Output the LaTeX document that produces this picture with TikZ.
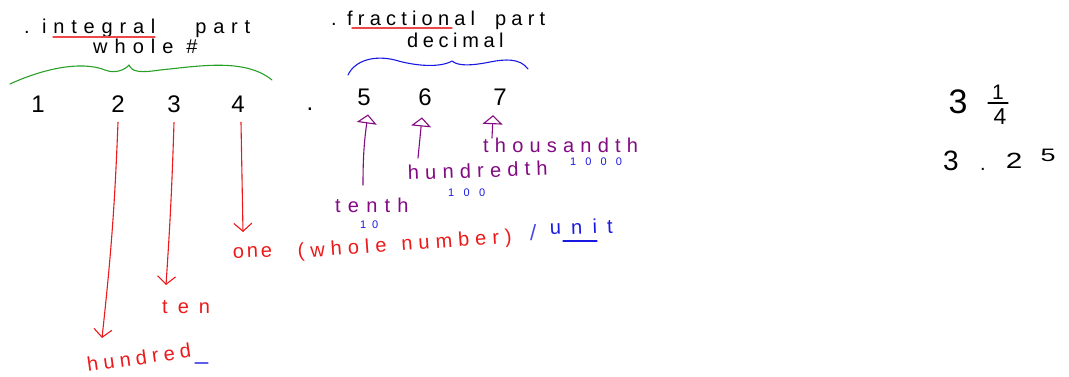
\documentclass[tikz,border=0pt]{standalone}
\usepackage{fontspec}
\usepackage{graphicx}
\setmainfont{Liberation Sans}
\usetikzlibrary{arrows.meta}
\definecolor{inkred}{RGB}{235,25,25}
\definecolor{inkpurple}{RGB}{130,10,130}
\definecolor{inkblue}{RGB}{25,25,225}
\definecolor{inkgreen}{RGB}{40,160,40}
\tikzset{
  hw/.style={inner sep=0pt, anchor=base west, font=\fontsize{20}{20}\selectfont\addfontfeatures{LetterSpace=#1}},
  hw/.default=30,
  small/.style={inner sep=0pt, anchor=base west, text=inkblue, font=\fontsize{11}{11}\selectfont\addfontfeatures{LetterSpace=#1}},
  small/.default=85,
  dig/.style={inner sep=0pt, anchor=base, font=\fontsize{24}{24}\selectfont},
  ink/.style={line width=1.1pt, line cap=round, line join=round},
  downarr/.style={ink, draw=inkred, -{Straight Barb[length=8pt,width=18pt]}},
  uparr/.style={ink, draw=inkpurple, -{Triangle[open,length=9pt,width=20pt]}},
}
\begin{document}
\begin{tikzpicture}[x=1pt,y=-1pt]
\useasboundingbox (0,0) rectangle (1069,376);

% ---- headings ----
\node[hw] (dotint) at (24,33) {.};
\node[hw=34] (integral) at (42,33) {integral\hspace{40pt}part};
\draw[ink, draw=inkred!80] (53,37) -- (155,37);
\node[hw=35] (whole) at (93,53) {whole\hspace{13pt}\#};
\draw[ink, draw=inkgreen] (10,84) .. controls (40,70) and (80,60) .. (105,70)
   .. controls (115,74) and (125,70) .. (129,65)
   .. controls (132,72) and (140,73) .. (160,70)
   .. controls (200,66) and (245,58) .. (272,80);

\node[hw] (dotfrac) at (331,25) {.};
\node[hw=26] (fractional) at (347,25) {fractional\hspace{20pt}part};
\draw[ink, draw=inkred!80] (352,28) -- (452,28);
\node[hw=23] (decimal) at (407,47) {decimal};
\draw[ink, draw=inkblue] (348,75) .. controls (355,60) and (375,55) .. (395,60)
   .. controls (415,66) and (440,68) .. (452,61)
   .. controls (458,66) and (470,66) .. (490,62)
   .. controls (505,59) and (520,58) .. (528,69);

% ---- digits ----
\node[dig] (d1) at (38,112) {1};
\node[dig] (d2) at (118,112) {2};
\node[dig] (d3) at (174,112) {3};
\node[dig] (d4) at (238,112) {4};
\node[dig] (dp) at (310,110) {.};
\node[dig] (d5) at (364,105) {5};
\node[dig] (d6) at (425,105) {6};
\node[dig] (d7) at (500,105) {7};

% ---- whole-part labels (red) ----
\node[hw=26, text=inkred, rotate=8] (hundred) at (88,372) {hundred};
\draw[ink, draw=inkblue!70] (195,363) -- (208,363);
\node[hw=50, text=inkred] (ten) at (162,313) {ten};
\node[hw=14, text=inkred, rotate=2] (one) at (233,258) {one};
\node[hw=30, text=inkred, rotate=4] (wholenum) at (298,258) {(whole\hspace{15pt}number)};
\node[hw, text=inkblue!80, font=\fontsize{22}{22}\selectfont] (slash) at (530,240) {/};
\node[hw=51, text=inkblue, rotate=2] (unit) at (550,235) {unit};
\draw[ink, draw=inkblue] (563,241) -- (597,241);

\coordinate (hundredtip) at (102,338);
\coordinate (tentip) at (166,285);
\coordinate (onetip) at (243,232);
\draw[downarr] ([yshift=-10pt]d2.south) to[bend left=2] (hundredtip);
\draw[downarr] ([yshift=-10pt]d3.south) to[bend left=1] (tentip);
\draw[downarr] ([xshift=3pt,yshift=-10pt]d4.south) -- (onetip);

% ---- fractional-part labels (purple) ----
\node[hw=36, text=inkpurple] (tenth) at (335,212) {tenth};
\node[small=53] (ten1) at (360,228) {10};
\node[hw=31, text=inkpurple, rotate=2] (hundredth) at (408,180) {hundredth};
\node[small] (hun1) at (448,196) {100};
\node[hw=31, text=inkpurple] (thousandth) at (483,152) {thousandth};
\node[small=83] (thou1) at (570,165) {1000};

\coordinate (a5) at (363,185);
\coordinate (a6) at (418,158);
\coordinate (a7) at (492,138);
\draw[uparr] (a5) to[bend left=4] ([xshift=4pt,yshift=-9pt]d5.south);
\draw[uparr] (a6) -- ([xshift=-3pt,yshift=-12pt]d6.south);
\draw[uparr] (a7) -- ([xshift=-7pt,yshift=-10pt]d7.south);

% ---- right side ----
\node[inner sep=0pt, anchor=base, font=\fontsize{34}{34}\selectfont] (threeA) at (958,113) {3};
\node[inner sep=0pt, anchor=base, font=\fontsize{21}{21}\selectfont] (num) at (998,99) {1};
\node[inner sep=0pt, anchor=base, font=\fontsize{23}{23}\selectfont] (den) at (1000,124) {4};
\draw[ink] (988,103) -- (1008,103);
\node[inner sep=0pt, anchor=base, font=\fontsize{28}{28}\selectfont] (threeB) at (951,170) {3};
\node[inner sep=0pt, anchor=base, font=\fontsize{20}{20}\selectfont] (dotB) at (983,170) {.};
\node[inner sep=0pt, anchor=base, font=\fontsize{22}{22}\selectfont] (twoB) at (1014,168) {\scalebox{1.35}[1]{2}};
\node[inner sep=0pt, anchor=base, font=\fontsize{18}{18}\selectfont] (fiveB) at (1048,161) {\scalebox{1.5}[1]{5}};
\end{tikzpicture}
\end{document}
